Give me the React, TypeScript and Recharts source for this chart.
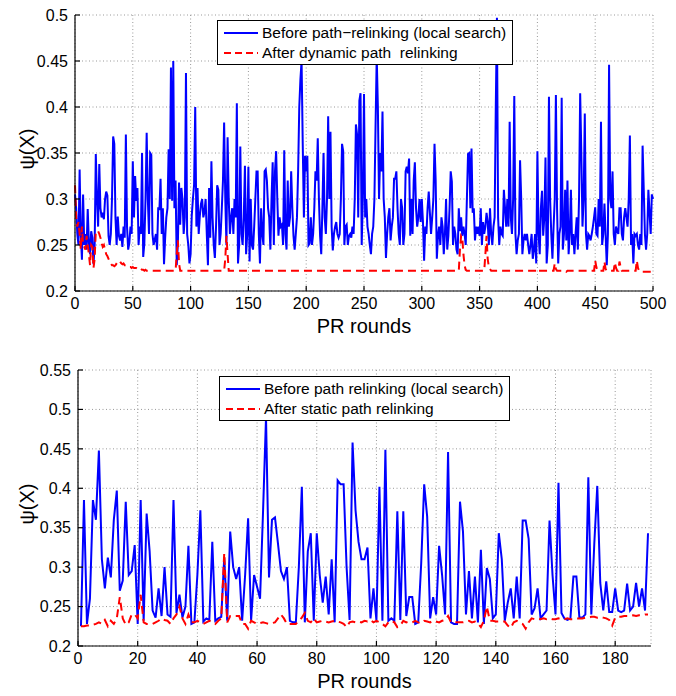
import React from 'react';
import { LineChart, Line, XAxis, YAxis, CartesianGrid, Label } from 'recharts';

// values are in thousandths of psi(X), one per PR round

// top panel: rounds 0..500
const dynBefore = [
  305, 290, 262, 250, 332, 262, 234, 305, 250, 262, 245, 289, 252, 240, 265, 258, 229, 250, 349, 300,
  270, 338, 290, 280, 285, 278, 300, 308, 304, 260, 250, 262, 300, 368, 360, 280, 250, 281, 260, 255,
  262, 248, 270, 258, 370, 270, 245, 252, 270, 262, 341, 280, 325, 298, 312, 250, 270, 262, 350, 237,
  252, 300, 372, 300, 262, 350, 348, 262, 250, 256, 262, 245, 291, 288, 322, 262, 290, 229, 258, 280,
  290, 354, 300, 443, 298, 450, 290, 320, 228, 252, 318, 272, 312, 300, 262, 280, 437, 262, 250, 230,
  240, 282, 300, 315, 400, 270, 312, 262, 282, 295, 300, 280, 286, 300, 262, 228, 312, 258, 341, 280,
  250, 236, 270, 315, 310, 250, 262, 290, 320, 383, 300, 250, 367, 300, 262, 280, 290, 262, 300, 280,
  404, 230, 250, 357, 262, 250, 280, 336, 240, 262, 335, 232, 300, 250, 245, 270, 300, 330, 330, 262,
  230, 290, 262, 250, 330, 332, 320, 290, 280, 245, 300, 340, 250, 330, 352, 300, 260, 280, 270, 272,
  250, 353, 262, 245, 320, 270, 280, 330, 290, 260, 245, 262, 280, 330, 400, 430, 450, 360, 280, 347,
  330, 347, 250, 252, 280, 250, 262, 290, 330, 320, 366, 300, 260, 240, 290, 350, 280, 262, 300, 390,
  300, 373, 270, 244, 262, 270, 275, 262, 258, 262, 300, 360, 352, 250, 270, 272, 250, 260, 262, 258,
  270, 262, 300, 381, 370, 280, 407, 415, 250, 300, 414, 280, 300, 270, 262, 250, 240, 262, 270, 300,
  380, 455, 400, 300, 350, 330, 395, 300, 280, 236, 262, 280, 290, 255, 270, 280, 322, 322, 330, 290,
  262, 250, 300, 290, 250, 262, 330, 335, 328, 344, 260, 300, 262, 320, 340, 290, 270, 280, 300, 275,
  300, 275, 233, 270, 262, 290, 308, 285, 262, 280, 300, 360, 320, 235, 260, 270, 250, 280, 270, 240,
  262, 300, 245, 260, 290, 330, 319, 250, 270, 262, 245, 240, 290, 265, 280, 260, 270, 262, 250, 300,
  349, 350, 290, 355, 285, 290, 255, 270, 262, 270, 260, 290, 250, 275, 262, 270, 285, 275, 250, 290,
  262, 250, 270, 280, 400, 497, 280, 250, 270, 262, 260, 310, 290, 270, 300, 270, 384, 280, 262, 300,
  412, 262, 240, 255, 262, 342, 300, 240, 255, 262, 255, 262, 250, 240, 250, 262, 235, 245, 262, 230,
  352, 262, 240, 290, 309, 260, 280, 345, 230, 250, 411, 300, 262, 235, 270, 300, 413, 290, 230, 262,
  270, 410, 245, 262, 310, 255, 320, 240, 262, 310, 250, 262, 240, 262, 280, 245, 300, 415, 350, 270,
  300, 393, 262, 245, 262, 260, 255, 262, 270, 280, 291, 262, 260, 300, 270, 384, 250, 262, 295, 262,
  228, 262, 446, 300, 290, 330, 262, 250, 270, 265, 262, 290, 290, 262, 255, 280, 290, 280, 270, 300,
  369, 250, 262, 230, 262, 260, 262, 250, 245, 262, 250, 358, 310, 262, 245, 262, 310, 285, 262, 305, 300,
];

const dynAfter = [
  315, 280, 270, 275, 262, 245, 270, 250, 248, 245, 260, 250, 240, 228, 250, 248, 225, 235, 265, 265,
  265, 262, 258, 252, 248, 250, 245, 240, 238, 235, 232, 230, 228, 228, 227, 228, 230, 232, 233, 232,
  230, 229, 230, 228, 228, 227, 227, 226, 226, 225, 226, 225, 225, 225, 224, 224, 225, 224, 223, 223,
  222, 223, 222, 222, 222, 222, 222, 222, 222, 222, 222, 222, 222, 222, 222, 222, 222, 222, 222, 222,
  222, 222, 222, 222, 222, 222, 222, 222, 240, 255, 230, 222, 222, 222, 222, 222, 222, 222, 222, 222,
  222, 222, 222, 222, 222, 222, 222, 222, 222, 222, 222, 222, 222, 222, 222, 222, 222, 222, 222, 222,
  222, 222, 222, 222, 222, 222, 222, 222, 222, 222, 235, 260, 240, 222, 222, 222, 222, 222, 222, 222,
  222, 222, 222, 222, 222, 222, 222, 222, 222, 222, 222, 222, 222, 222, 222, 222, 222, 222, 222, 222,
  222, 222, 222, 222, 222, 222, 222, 222, 222, 222, 222, 222, 222, 222, 222, 222, 222, 222, 222, 222,
  222, 222, 222, 222, 222, 222, 222, 222, 222, 222, 222, 222, 222, 222, 222, 222, 222, 222, 222, 222,
  222, 222, 222, 222, 222, 222, 222, 222, 222, 222, 222, 222, 222, 222, 222, 222, 222, 222, 222, 222,
  222, 222, 222, 222, 222, 222, 222, 222, 222, 222, 222, 222, 222, 222, 222, 222, 222, 222, 222, 222,
  222, 222, 222, 222, 222, 222, 222, 222, 222, 222, 222, 222, 222, 222, 222, 222, 222, 222, 222, 222,
  222, 222, 222, 222, 222, 222, 222, 222, 222, 222, 222, 222, 222, 222, 222, 222, 222, 222, 222, 222,
  222, 222, 222, 222, 222, 222, 222, 222, 222, 222, 222, 222, 222, 222, 222, 222, 222, 222, 222, 222,
  222, 222, 222, 222, 222, 222, 222, 222, 222, 222, 222, 222, 222, 222, 222, 222, 222, 222, 222, 222,
  222, 222, 222, 222, 222, 222, 222, 222, 222, 222, 222, 222, 222, 245, 260, 258, 240, 228, 223, 222,
  222, 222, 222, 222, 222, 222, 222, 222, 222, 222, 222, 222, 222, 222, 222, 240, 260, 235, 226, 224,
  222, 222, 222, 222, 222, 222, 222, 222, 222, 222, 222, 222, 222, 222, 222, 222, 222, 222, 222, 222,
  222, 222, 222, 222, 222, 222, 222, 222, 222, 222, 222, 222, 222, 222, 222, 222, 222, 222, 222, 222,
  224, 222, 222, 222, 222, 222, 222, 222, 222, 222, 222, 222, 222, 222, 222, 230, 224, 222, 222, 222,
  222, 222, 222, 222, 222, 221, 222, 222, 222, 222, 222, 222, 222, 222, 222, 222, 222, 222, 222, 222,
  222, 222, 222, 222, 222, 222, 222, 222, 222, 222, 233, 226, 222, 222, 222, 222, 222, 222, 232, 224,
  222, 222, 222, 222, 222, 222, 222, 231, 225, 222, 222, 232, 226, 222, 222, 222, 222, 222, 222, 222,
  222, 222, 222, 222, 222, 222, 233, 225, 222, 222, 221, 221, 221, 221, 221, 221, 221, 221, 221, 221, 221,
];

// bottom panel: rounds 1..191
const staticBefore = [
  225, 385, 228, 260, 385, 360, 448, 310, 273, 312, 287, 360, 397, 270, 283, 383, 290, 295, 328, 228,
  385, 232, 368, 320, 245, 236, 273, 238, 300, 240, 237, 385, 242, 265, 236, 250, 327, 228, 230, 290,
  372, 231, 235, 233, 332, 232, 235, 237, 312, 232, 345, 300, 285, 300, 232, 290, 362, 232, 290, 275,
  260, 370, 490, 287, 360, 363, 330, 295, 285, 300, 232, 230, 230, 300, 402, 230, 320, 343, 232, 343,
  290, 255, 288, 240, 310, 230, 410, 405, 405, 300, 233, 458, 372, 332, 310, 310, 325, 235, 273, 232,
  402, 232, 449, 232, 235, 232, 371, 233, 371, 238, 262, 262, 228, 230, 305, 405, 364, 235, 262, 240,
  327, 290, 240, 446, 230, 228, 228, 383, 345, 240, 295, 235, 288, 230, 322, 228, 299, 285, 235, 240,
  343, 310, 232, 255, 273, 235, 288, 235, 359, 359, 336, 240, 248, 273, 235, 240, 245, 359, 290, 240,
  407, 242, 235, 233, 235, 288, 288, 236, 236, 240, 414, 240, 330, 403, 280, 245, 282, 243, 243, 273,
  245, 243, 245, 279, 245, 250, 280, 250, 273, 245, 343,
];

const staticAfter = [
  225, 225, 226, 226, 227, 228, 230, 228, 233, 225, 232, 228, 235, 262, 235, 227, 230, 240, 240, 235,
  265, 230, 228, 228, 228, 230, 232, 235, 233, 232, 228, 235, 240, 250, 235, 228, 240, 230, 230, 232,
  230, 228, 230, 232, 230, 228, 232, 235, 318, 230, 238, 238, 238, 238, 228, 228, 222, 232, 230, 228,
  229, 230, 229, 228, 229, 230, 235, 240, 235, 228, 228, 228, 228, 232, 236, 242, 232, 230, 235, 230,
  231, 232, 231, 230, 231, 232, 231, 230, 228, 224, 230, 231, 230, 231, 230, 232, 231, 233, 230, 232,
  230, 228, 225, 230, 232, 230, 224, 226, 232, 230, 231, 230, 232, 230, 229, 232, 231, 230, 232, 231,
  230, 232, 233, 238, 230, 230, 230, 230, 230, 231, 232, 230, 231, 229, 224, 232, 250, 232, 232, 231,
  231, 231, 231, 226, 223, 230, 232, 230, 228, 222, 230, 235, 234, 235, 234, 235, 234, 235, 234, 234,
  235, 234, 234, 235, 234, 234, 235, 235, 235, 236, 236, 237, 237, 236, 237, 236, 235, 233, 226, 236,
  237, 237, 238, 238, 238, 239, 238, 239, 239, 240, 240,
];

const dynTicksX = [0, 50, 100, 150, 200, 250, 300, 350, 400, 450, 500];
const dynTicksY = [0.2, 0.25, 0.3, 0.35, 0.4, 0.45, 0.5];
const staticTicksX = [0, 20, 40, 60, 80, 100, 120, 140, 160, 180];
const staticTicksY = [0.2, 0.25, 0.3, 0.35, 0.4, 0.45, 0.5, 0.55];

const dynData = dynBefore.map((v, i) => ({ round: i, before: v / 1000, after: dynAfter[i] / 1000 }));
const staticData = staticBefore.map((v, i) => ({ round: i + 1, before: v / 1000, after: staticAfter[i] / 1000 }));

const FONT = "'Liberation Sans', Arial, Helvetica, sans-serif";
const BLUE = '#0000ff';
const RED = '#ff0000';
const tickStyle = { fill: '#000', fontSize: 16 };

const xTitle = (props: any) => {
  const { x, y, width } = props.viewBox;
  return (
    <text x={x + width / 2} y={y + 42} textAnchor="middle" fontSize={20} fill="#000">
      PR rounds
    </text>
  );
};

const yTitle = (props: any) => {
  const { x, y, height } = props.viewBox;
  const cx = x + 27;
  const cy = y + height / 2 - 4;
  return (
    <text x={cx} y={cy} transform={`rotate(-90 ${cx} ${cy})`} textAnchor="middle" dominantBaseline="central" fontSize={20} fill="#000">
      ψ(X)
    </text>
  );
};

const LegendBox = ({ left, top, width, before, after }: any) => (
  <div
    style={{
      position: 'absolute', left, top, width, boxSizing: 'border-box',
      border: '1.5px solid #000', background: '#fff', padding: '2px 0 1px 6px',
      fontSize: 15.5, lineHeight: '20px', color: '#000', whiteSpace: 'pre',
    }}
  >
    <div style={{ display: 'flex', alignItems: 'center' }}>
      <svg width={34} height={10}><line x1={0} y1={5} x2={34} y2={5} stroke={BLUE} strokeWidth={2} /></svg>
      <span style={{ marginLeft: 4 }}>{before}</span>
    </div>
    <div style={{ display: 'flex', alignItems: 'center' }}>
      <svg width={34} height={10}><line x1={0} y1={5} x2={34} y2={5} stroke={RED} strokeWidth={2} strokeDasharray="7 4" /></svg>
      <span style={{ marginLeft: 4 }}>{after}</span>
    </div>
  </div>
);

const Panel = ({ data, xMax, xTicks, yTicks, margin, yWidth, xHeight }: any) => {
  const yDomain = [yTicks[0], yTicks[yTicks.length - 1]];
  const axis = { stroke: '#000', strokeWidth: 1.2 };
  return (
    <LineChart width={676} height={348} data={data} margin={margin}>
      <CartesianGrid stroke="#999" strokeDasharray="1 2.5" />
      <XAxis dataKey="round" type="number" domain={[0, xMax]} ticks={xTicks} interval={0}
        height={xHeight} tick={tickStyle} tickSize={-5} tickMargin={12} axisLine={axis} tickLine={axis}>
        <Label content={xTitle} />
      </XAxis>
      <XAxis xAxisId="top" orientation="top" type="number" domain={[0, xMax]} ticks={xTicks} interval={0}
        height={0} tick={false} tickSize={-5} axisLine={axis} tickLine={axis} />
      <YAxis type="number" domain={yDomain} ticks={yTicks} interval={0} width={yWidth}
        tick={tickStyle} tickSize={-5} tickMargin={12} axisLine={axis} tickLine={axis}>
        <Label content={yTitle} />
      </YAxis>
      <YAxis yAxisId="right" orientation="right" type="number" domain={yDomain} ticks={yTicks} interval={0}
        width={0} tick={false} tickSize={-5} axisLine={axis} tickLine={axis} />
      <Line type="linear" dataKey="before" stroke={BLUE} strokeWidth={2} dot={false} isAnimationActive={false} />
      <Line type="linear" dataKey="after" stroke={RED} strokeWidth={2} strokeDasharray="8 5" dot={false} isAnimationActive={false} />
    </LineChart>
  );
};

export default function App() {
  return (
    <div style={{ position: 'absolute', left: 0, top: 0, width: 676, height: 696, background: '#fff', fontFamily: FONT }}>
      <div style={{ position: 'absolute', left: 0, top: 0 }}>
        <Panel data={dynData} xMax={500} xTicks={dynTicksX} yTicks={dynTicksY}
          margin={{ top: 15, right: 23, bottom: 0, left: 0 }} yWidth={75} xHeight={57} />
      </div>
      <div style={{ position: 'absolute', left: 0, top: 348 }}>
        <Panel data={staticData} xMax={192} xTicks={staticTicksX} yTicks={staticTicksY}
          margin={{ top: 22, right: 25, bottom: 0, left: 0 }} yWidth={78} xHeight={50} />
      </div>
      <LegendBox left={217} top={20} width={296}
        before="Before path−relinking (local search)" after="After dynamic path  relinking" />
      <LegendBox left={219} top={376} width={291}
        before="Before path relinking (local search)" after="After static path relinking" />
    </div>
  );
}
